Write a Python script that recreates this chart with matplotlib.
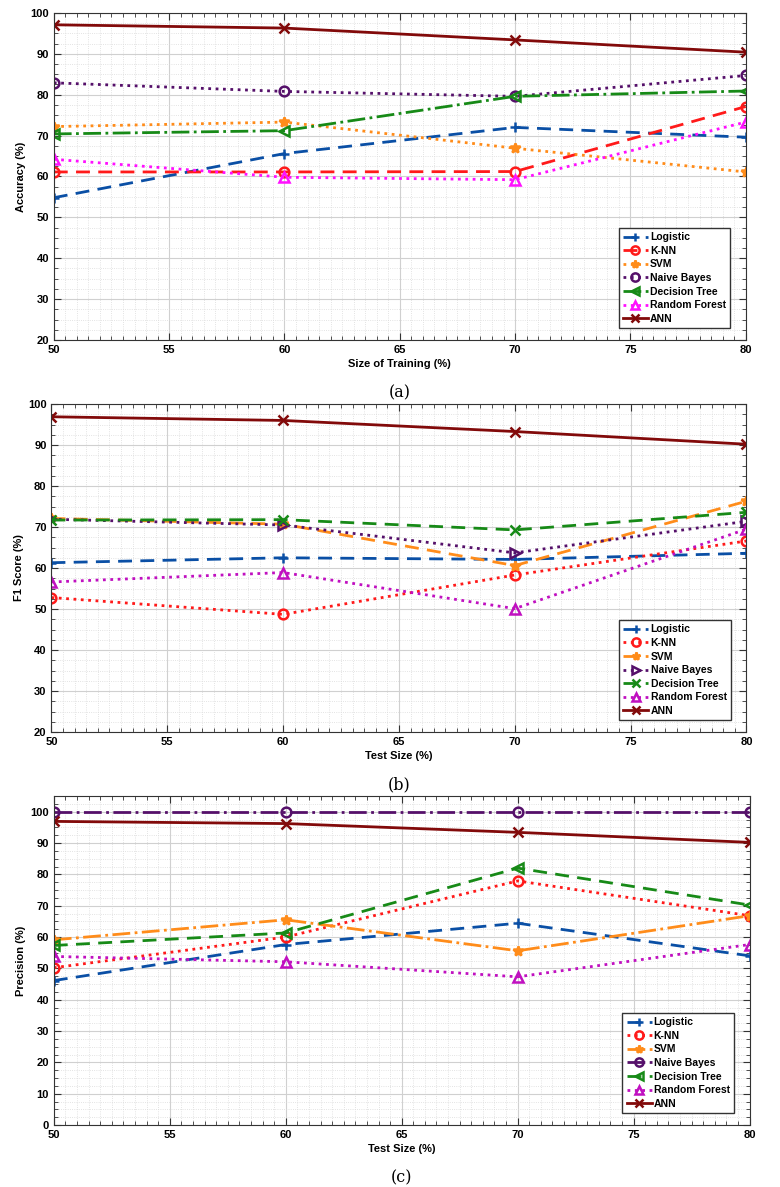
import matplotlib
matplotlib.use('Agg')
import matplotlib.pyplot as plt
from matplotlib.ticker import MultipleLocator

plt.rcParams['font.family'] = 'Liberation Sans'
plt.rcParams['font.weight'] = 'bold'

x = [50, 60, 70, 80]
names = ['Logistic', 'K-NN', 'SVM', 'Naive Bayes', 'Decision Tree', 'Random Forest', 'ANN']

# (a) accuracy vs size of training
acc_logistic = [54.8, 65.6, 72.0, 69.6]
acc_knn = [61.1, 61.1, 61.2, 77.1]
acc_svm = [72.2, 73.3, 66.9, 61.1]
acc_nb = [82.9, 80.8, 79.6, 84.7]
acc_dt = [70.4, 71.2, 79.6, 80.9]
acc_rf = [64.2, 59.8, 59.2, 73.3]
acc_ann = [97.1, 96.3, 93.4, 90.4]

# (b) F1 score vs test size
f1_logistic = [61.3, 62.5, 62.1, 63.6]
f1_knn = [52.8, 48.7, 58.3, 66.6]
f1_svm = [72.1, 70.7, 60.6, 76.3]
f1_nb = [71.9, 70.5, 63.7, 71.4]
f1_dt = [71.7, 71.8, 69.3, 73.6]
f1_rf = [56.6, 58.9, 50.1, 69.5]
f1_ann = [96.9, 96.0, 93.3, 90.2]

# (c) precision vs test size
pr_logistic = [46.1, 57.6, 64.4, 54.0]
pr_knn = [50.2, 60.0, 77.9, 66.8]
pr_svm = [59.1, 65.5, 55.6, 66.8]
pr_nb = [100, 100, 100, 100]
pr_dt = [57.3, 61.3, 82.0, 70.2]
pr_rf = [53.8, 52.1, 47.3, 57.6]
pr_ann = [96.9, 96.2, 93.4, 90.2]

blue = '#0a4fa5'
red = '#ff1a1a'
orange = '#ff8c1a'
purple = '#55106a'
green = '#178a17'
darkred = '#820a0a'

fig = plt.figure(figsize=(7.8, 11.87), dpi=100)


def panel(rect, series, styles, ylabel, xlabel, ylim, yticks, caption):
    ax = fig.add_axes(rect)
    for vals, name, (c, ls, m) in zip(series, names, styles):
        face = c if m == '*' else 'none'
        ax.plot(x, vals, color=c, linestyle=ls, marker=m, linewidth=2.0,
                markersize=7, markeredgewidth=1.8, markerfacecolor=face,
                label=name)
    ax.set_xlim(50, 80)
    ax.set_ylim(*ylim)
    ax.set_yticks(yticks)
    ax.xaxis.set_minor_locator(MultipleLocator(0.5))
    ax.yaxis.set_minor_locator(MultipleLocator(2.5))
    ax.grid(True, which='major', color='#d0d0d0', linewidth=0.8)
    ax.grid(True, which='minor', color='#dadada', linestyle=':', linewidth=0.6)
    ax.tick_params(which='both', direction='in', top=True, right=True,
                   labelsize=8, color='#333333')
    ax.tick_params(which='major', length=5)
    ax.tick_params(which='minor', length=3)
    for s in ax.spines.values():
        s.set_color('#333333')
    ax.set_xlabel(xlabel, fontsize=8, fontweight='bold', labelpad=3)
    ax.set_ylabel(ylabel, fontsize=8, fontweight='bold', labelpad=3)
    ax.legend(loc='lower right', bbox_to_anchor=(0.985, 0.02), fontsize=7.5,
              handlelength=2.4, handletextpad=0.2, labelspacing=0.35,
              borderpad=0.4, fancybox=False, edgecolor='#333333',
              framealpha=1, markerscale=0.85)
    ax.text(0.5, -0.135, caption, transform=ax.transAxes, ha='center',
            va='top', fontsize=11.5, fontweight='normal', family='DejaVu Serif')
    return ax


panel([0.069, 0.7136, 0.887, 0.2755],
      [acc_logistic, acc_knn, acc_svm, acc_nb, acc_dt, acc_rf, acc_ann],
      [(blue, (0, (5, 3)), '+'), (red, (0, (5, 3)), 'o'), (orange, ':', '*'),
       (purple, ':', 'o'), (green, '-.', '<'), ('#ff10ff', ':', '^'),
       (darkred, '-', 'x')],
      'Accuracy (%)', 'Size of Training (%)', (20, 100),
      range(20, 101, 10), '(a)')

panel([0.066, 0.3833, 0.891, 0.2763],
      [f1_logistic, f1_knn, f1_svm, f1_nb, f1_dt, f1_rf, f1_ann],
      [(blue, (0, (5, 3)), '+'), (red, ':', 'o'), (orange, (0, (5, 3)), '*'),
       (purple, ':', '>'), (green, (0, (5, 3)), 'x'), ('#c010c0', ':', '^'),
       (darkred, '-', 'x')],
      'F1 Score (%)', 'Test Size (%)', (20, 100),
      range(20, 101, 10), '(b)')

panel([0.069, 0.0522, 0.892, 0.2772],
      [pr_logistic, pr_knn, pr_svm, pr_nb, pr_dt, pr_rf, pr_ann],
      [(blue, (0, (5, 3)), '+'), (red, ':', 'o'), (orange, '-.', '*'),
       (purple, '-.', 'o'), (green, (0, (5, 3)), '<'), ('#c010c0', ':', '^'),
       (darkred, '-', 'x')],
      'Precision (%)', 'Test Size (%)', (0, 105),
      range(0, 101, 10), '(c)')

fig.savefig('out.png', dpi=100)
